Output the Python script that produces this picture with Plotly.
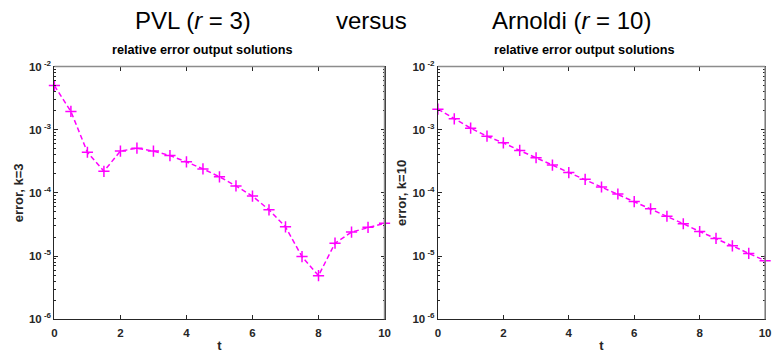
import plotly.graph_objects as go

t = [0, 0.5, 1, 1.5, 2, 2.5, 3, 3.5, 4, 4.5, 5, 5.5, 6, 6.5, 7, 7.5, 8, 8.5, 9, 9.5, 10]
err_pvl = [5.0e-3, 1.95e-3, 4.4e-4, 2.2e-4, 4.6e-4, 5.1e-4, 4.6e-4, 3.9e-4, 3.1e-4, 2.4e-4,
           1.8e-4, 1.29e-4, 8.9e-5, 5.4e-5, 2.9e-5, 9.8e-6, 4.9e-6, 1.6e-5, 2.4e-5, 2.85e-5, 3.3e-5]
err_arn = [2.12e-3, 1.49e-3, 1.06e-3, 7.9e-4, 6.2e-4, 4.7e-4, 3.6e-4, 2.76e-4, 2.1e-4, 1.64e-4,
           1.24e-4, 9.6e-5, 7.3e-5, 5.6e-5, 4.27e-5, 3.25e-5, 2.45e-5, 1.9e-5, 1.45e-5, 1.1e-5, 8.45e-6]
xticks = [0, 2, 4, 6, 8, 10]
yticks = [1e-6, 1e-5, 1e-4, 1e-3, 1e-2]
yticktext = ["<b>10</b><sup><b> -6</b></sup>", "<b>10</b><sup><b> -5</b></sup>",
             "<b>10</b><sup><b> -4</b></sup>", "<b>10</b><sup><b> -3</b></sup>",
             "<b>10</b><sup><b> -2</b></sup>"]

MAG = "#FF00FF"
AX = "#262626"
FONT = "Liberation Sans, Arial, sans-serif"

fig = go.Figure()
for i, y in enumerate([err_pvl, err_arn]):
    xa = "x" if i == 0 else "x2"
    ya = "y" if i == 0 else "y2"
    fig.add_trace(go.Scatter(
        x=t, y=y, xaxis=xa, yaxis=ya, mode="lines+markers",
        line=dict(color=MAG, width=1.5, dash="5px,3px"),
        marker=dict(symbol="cross-thin", size=8, line=dict(color=MAG, width=1.5)),
        showlegend=False, cliponaxis=False))

doms = [[52/779, 386/779], [440/779, 771/779]]
ydom = [31/355, 294/355]
shapes = []
for i in range(2):
    sfx = "" if i == 0 else "2"
    fig.layout["xaxis" + sfx] = dict(
        domain=doms[i], range=[0, 10], tickvals=xticks,
        ticktext=["<b>%d</b>" % v for v in xticks],
        ticks="inside", ticklen=4, tickcolor=AX, showline=True, linecolor=AX, linewidth=1,
        mirror="ticks", showgrid=False, zeroline=False, ticklabelstandoff=3,
        tickfont=dict(family=FONT, size=11.5, color=AX),
        title=dict(text="<b>t</b>", font=dict(family=FONT, size=13, color=AX), standoff=2),
        anchor="y" + sfx)
    fig.layout["yaxis" + sfx] = dict(
        domain=ydom, type="log", range=[-6, -2], tickvals=yticks, ticktext=yticktext,
        ticks="inside", ticklen=4, tickcolor=AX, showline=True, linecolor=AX, linewidth=1,
        mirror="ticks", showgrid=False, zeroline=False,
        minor=dict(ticks="inside", ticklen=2, tickcolor=AX, dtick="D1", showgrid=False),
        tickfont=dict(family=FONT, size=11.5, color=AX),
        title=dict(text="<b>%s</b>" % ("error, k=3" if i == 0 else "error, k=10"),
                   font=dict(family=FONT, size=13, color=AX), standoff=2),
        anchor="x" + sfx)
    x0, x1 = doms[i]
    shapes.append(dict(type="line", xref="paper", yref="paper", x0=x0, x1=x1,
                       y0=ydom[1], y1=ydom[1], line=dict(color="#8c8c8c", width=1.5), layer="above"))
    shapes.append(dict(type="line", xref="paper", yref="paper", x0=x1, x1=x1,
                       y0=ydom[0], y1=ydom[1], line=dict(color="#8c8c8c", width=1.5), layer="above"))

ann = []
for cx in [201/779, 588/779]:
    ann.append(dict(text="<b>relative error output solutions</b>", x=cx, y=(355-44)/355,
                    xref="paper", yref="paper", showarrow=False,
                    font=dict(family=FONT, size=12.7, color="#000000"),
                    xanchor="center", yanchor="middle"))
for txt, cx in [("PVL (<i>r</i> = 3)", 192/779), ("versus", 373/779), ("Arnoldi (<i>r</i> = 10)", 575/779)]:
    ann.append(dict(text=txt, x=cx, y=(355+3)/355, xref="paper", yref="paper",
                    showarrow=False, font=dict(family=FONT, size=24, color="#000000"),
                    xanchor="center", yanchor="top"))

fig.update_layout(width=779, height=355, margin=dict(l=0, r=0, t=0, b=0),
                  paper_bgcolor="white", plot_bgcolor="white", annotations=ann, shapes=shapes)
fig.write_html("out.html")
